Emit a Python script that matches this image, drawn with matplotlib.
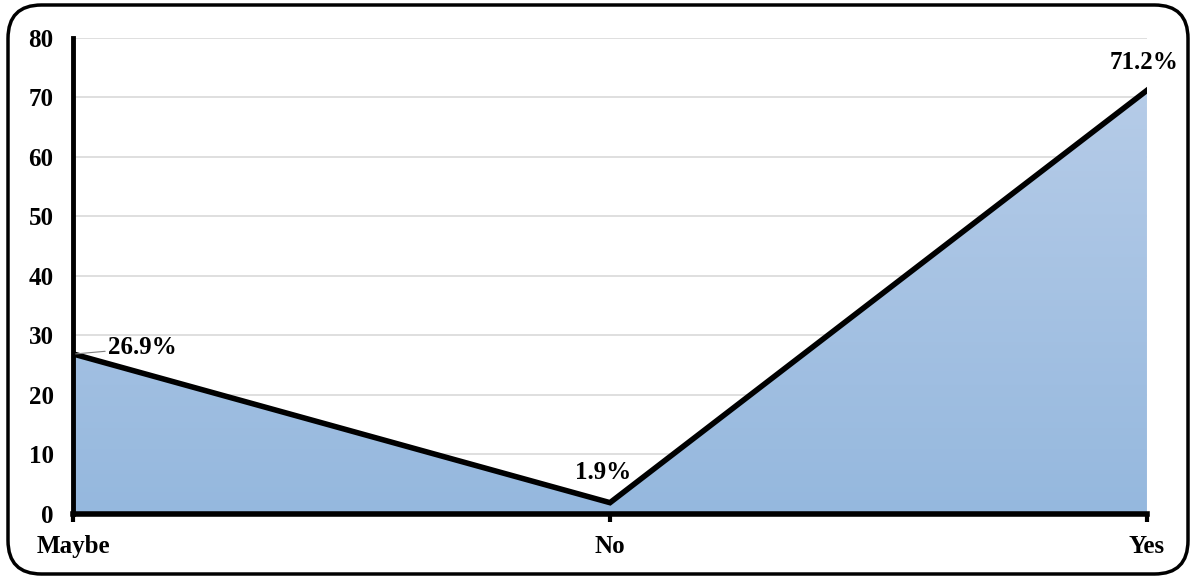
import numpy as np
import matplotlib
matplotlib.use("Agg")
import matplotlib.pyplot as plt
from matplotlib.colors import LinearSegmentedColormap
from matplotlib.patches import FancyBboxPatch, Polygon

categories = ["Maybe", "No", "Yes"]
values = [26.9, 1.9, 71.2]
labels = ["26.9%", "1.9%", "71.2%"]
yticks = [0, 10, 20, 30, 40, 50, 60, 70, 80]

plt.rcParams['font.family'] = ['Liberation Serif', 'DejaVu Serif']
plt.rcParams['font.weight'] = 'bold'

fig = plt.figure(figsize=(11.95, 5.79), dpi=100)
ax = fig.add_axes([0.0611, 0.1123, 0.8987, 0.8221])

x = np.arange(len(categories))

# gradient fill under the line
cmap = LinearSegmentedColormap.from_list("blues", ["#95b8de", "#b6cce8"])
grad = np.linspace(0, 1, 256).reshape(-1, 1)
img = ax.imshow(grad, cmap=cmap, origin="lower", aspect="auto",
                extent=[0, 2, 0, 72], zorder=1)
poly = Polygon(list(zip(x, values)) + [(2, 0), (0, 0)], closed=True,
               facecolor="none", edgecolor="none", transform=ax.transData)
ax.add_patch(poly)
img.set_clip_path(poly)

ax.plot(x, values, color="black", linewidth=4, solid_joinstyle="miter", zorder=3)

ax.set_xlim(0, 2)
ax.set_ylim(0, 80)
ax.set_yticks(yticks)
ax.set_xticks(x)
ax.set_xticklabels(categories)
ax.grid(axis="y", color="#d9d9d9", linewidth=1.2, zorder=0)
ax.set_axisbelow(True)

for s in ["top", "right"]:
    ax.spines[s].set_visible(False)
ax.spines["left"].set_linewidth(3.5)
ax.spines["bottom"].set_linewidth(4)
ax.spines["bottom"].set_zorder(4)
ax.tick_params(axis="x", length=6, width=3, pad=9, labelsize=18)
ax.tick_params(axis="y", length=0, pad=14, labelsize=18)

# value labels
ax.annotate(labels[0], xy=(0.005, values[0]), xytext=(0.065, values[0] + 1.0),
            fontsize=18, fontweight="bold", va="center", ha="left",
            arrowprops=dict(arrowstyle="-", color="#7f7f7f", lw=0.8,
                            shrinkA=0, shrinkB=0))
ax.annotate(labels[1], xy=(x[1], values[1]), xytext=(-5, 22),
            textcoords="offset points", fontsize=18, fontweight="bold",
            ha="center", va="center")
ax.annotate(labels[2], xy=(x[2], values[2]), xytext=(-2, 20),
            textcoords="offset points", fontsize=18, fontweight="bold",
            ha="center", va="center", annotation_clip=False)

# rounded frame around the whole chart
frame = FancyBboxPatch((8 / 1195, 5 / 579), 1180 / 1195, 569 / 579,
                       boxstyle="round,pad=0,rounding_size=0.028",
                       transform=fig.transFigure, facecolor="none",
                       edgecolor="black", linewidth=2.5,
                       mutation_aspect=1195 / 579)
fig.patches.append(frame)

fig.savefig("out.png", dpi=100)
